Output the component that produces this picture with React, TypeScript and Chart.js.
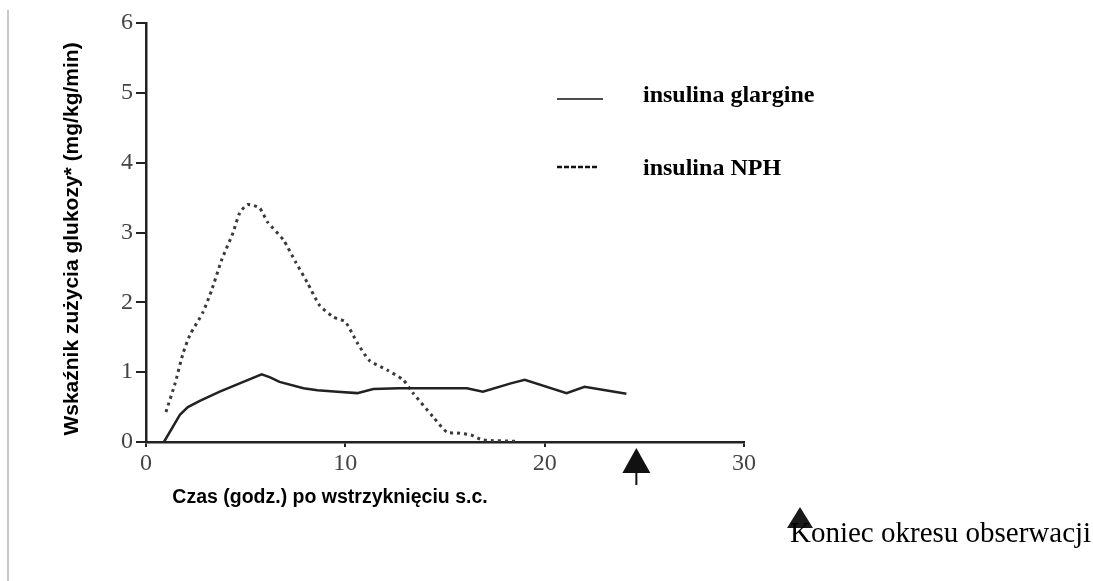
import React, { useEffect, useRef } from "react";
import { Chart, registerables } from "chart.js";

Chart.register(...registerables);

// ---- data ----
const glargineHours = [0.9, 1.7, 2.1, 2.7, 3.7, 4.7, 5.8, 6.2, 6.7, 7.9, 8.6, 9.6, 10.6, 11.4, 12.7, 16.1, 16.9, 18.3, 19.0, 21.1, 22.0, 24.1];
const glargineRate = [0, 0.39, 0.5, 0.59, 0.72, 0.84, 0.97, 0.93, 0.86, 0.77, 0.74, 0.72, 0.7, 0.76, 0.77, 0.77, 0.72, 0.84, 0.89, 0.7, 0.79, 0.69];

const nphHours = [1.0, 1.46, 1.86, 2.2, 2.86, 3.3, 3.8, 4.37, 4.7, 5.1, 5.7, 6.1, 6.9, 7.5, 8.1, 8.7, 9.4, 10.0, 10.6, 11.2, 12.1, 12.9, 13.4, 14.4, 15.1, 15.6, 16.3, 16.9, 18.6];
const nphRate = [0.43, 0.84, 1.27, 1.53, 1.86, 2.18, 2.61, 3.0, 3.28, 3.4, 3.35, 3.15, 2.89, 2.58, 2.28, 1.96, 1.79, 1.72, 1.42, 1.17, 1.03, 0.89, 0.7, 0.36, 0.14, 0.13, 0.1, 0.03, 0.01];

const seriesLabels = ["insulina glargine", "insulina NPH"];
const xRange = [0, 30];
const xStep = 10;
const yRange = [0, 6];
const yStep = 1;
const xTitle = "Czas (godz.) po wstrzyknięciu s.c.";
const yTitle = "Wskaźnik zużycia glukozy* (mg/kg/min)";
const endOfObservationHour = 24.6;
const endNote = "Koniec okresu obserwacji";

const SERIF = '"Liberation Serif", "Times New Roman", serif';
const SANS = '"Liberation Sans", Arial, sans-serif';

const overlayPlugin = {
  id: "overlay",
  afterDraw(chart: any) {
    const ctx = chart.ctx as CanvasRenderingContext2D;
    const { chartArea, scales } = chart;
    ctx.save();

    // page edge line on the left
    ctx.fillStyle = "#c8c8c8";
    ctx.fillRect(7, 10, 2, 571);

    // y title
    ctx.save();
    ctx.fillStyle = "#000";
    ctx.font = `bold 21px ${SANS}`;
    ctx.textAlign = "center";
    ctx.textBaseline = "middle";
    ctx.translate(72, 239);
    ctx.rotate(-Math.PI / 2);
    ctx.fillText(yTitle, 0, 0);
    ctx.restore();

    // x title
    ctx.fillStyle = "#000";
    ctx.font = `bold 19.5px ${SANS}`;
    ctx.textAlign = "center";
    ctx.textBaseline = "alphabetic";
    ctx.fillText(xTitle, 330, 503);

    // legend
    const legendRows = [
      { lineY: 99, x2: 603, textY: 102, width: 1.5, dash: [] as number[] },
      { lineY: 167, x2: 598, textY: 175, width: 2.5, dash: [5, 2] },
    ];
    chart.data.datasets.forEach((ds: any, i: number) => {
      const row = legendRows[i];
      if (!row) return;
      ctx.save();
      ctx.strokeStyle = "#111";
      ctx.lineWidth = row.width;
      ctx.setLineDash(row.dash);
      ctx.beginPath();
      ctx.moveTo(557, row.lineY);
      ctx.lineTo(row.x2, row.lineY);
      ctx.stroke();
      ctx.restore();
      ctx.fillStyle = "#000";
      ctx.font = `bold 24px ${SERIF}`;
      ctx.textAlign = "left";
      ctx.textBaseline = "alphabetic";
      ctx.fillText(ds.label, 643, row.textY);
    });

    // end-of-observation arrow under the x axis
    const ax = scales.x.getPixelForValue(endOfObservationHour);
    const ay = chartArea.bottom + 6;
    ctx.fillStyle = "#111";
    ctx.beginPath();
    ctx.moveTo(ax, ay);
    ctx.lineTo(ax + 14, ay + 25);
    ctx.lineTo(ax - 14, ay + 25);
    ctx.closePath();
    ctx.fill();
    ctx.fillRect(ax - 1, ay + 24, 2, 13);

    // annotation bottom-right
    ctx.fillStyle = "#1a1a1a";
    ctx.beginPath();
    ctx.moveTo(800, 507);
    ctx.lineTo(813, 528);
    ctx.lineTo(787, 528);
    ctx.closePath();
    ctx.fill();
    ctx.fillStyle = "#000";
    ctx.font = `29px ${SERIF}`;
    ctx.textAlign = "left";
    ctx.textBaseline = "alphabetic";
    ctx.fillText(endNote, 790, 542);

    ctx.restore();
  },
};

export default function App() {
  const canvasRef = useRef<HTMLCanvasElement | null>(null);

  useEffect(() => {
    if (!canvasRef.current) return;
    const chart = new Chart(canvasRef.current, {
      type: "line",
      data: {
        datasets: [
          {
            label: seriesLabels[0],
            data: glargineHours.map((h, i) => ({ x: h, y: glargineRate[i] })),
            borderColor: "#222",
            borderWidth: 2.5,
            pointRadius: 0,
            tension: 0,
            fill: false,
          },
          {
            label: seriesLabels[1],
            data: nphHours.map((h, i) => ({ x: h, y: nphRate[i] })),
            borderColor: "#3a3a3a",
            borderWidth: 3,
            borderDash: [3, 4],
            pointRadius: 0,
            tension: 0.2,
            fill: false,
          },
        ],
      },
      options: {
        animation: false,
        responsive: false,
        maintainAspectRatio: false,
        layout: { padding: { left: 0, top: 23, right: 349, bottom: 0 } },
        plugins: { legend: { display: false }, tooltip: { enabled: false } },
        scales: {
          x: {
            type: "linear",
            min: xRange[0],
            max: xRange[1],
            ticks: {
              stepSize: xStep,
              padding: 5,
              color: "#444",
              font: { family: SERIF, size: 24, lineHeight: 1 },
              maxRotation: 0,
            },
            grid: {
              display: true,
              drawOnChartArea: false,
              drawTicks: true,
              tickLength: 5,
              color: "#222",
              lineWidth: 2,
            },
            border: { display: true, color: "#222", width: 2.5 },
            afterFit: (s: any) => {
              s.height = 139;
            },
          },
          y: {
            type: "linear",
            min: yRange[0],
            max: yRange[1],
            ticks: {
              stepSize: yStep,
              padding: 3,
              color: "#444",
              font: { family: SERIF, size: 24, lineHeight: 1 },
            },
            grid: {
              display: true,
              drawOnChartArea: false,
              drawTicks: true,
              tickLength: 10,
              color: "#222",
              lineWidth: 2,
            },
            border: { display: true, color: "#222", width: 2.5 },
            afterFit: (s: any) => {
              s.width = 146;
            },
          },
        },
      },
      plugins: [overlayPlugin],
    });
    return () => chart.destroy();
  }, []);

  return (
    <div style={{ position: "absolute", left: 0, top: 0, width: 1093, height: 581, background: "#fff" }}>
      <canvas ref={canvasRef} width={1093} height={581} style={{ display: "block" }} />
    </div>
  );
}
